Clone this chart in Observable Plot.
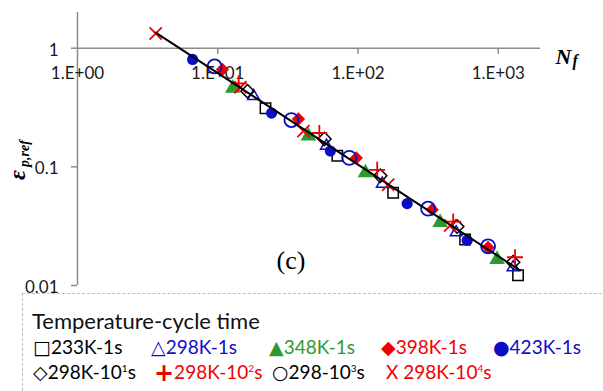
<!DOCTYPE html>
<html>
<head>
<meta charset="utf-8">
<script src="https://cdn.jsdelivr.net/npm/d3@7"></script>
<script src="https://cdn.jsdelivr.net/npm/@observablehq/plot@0.6"></script>
<style>
  html, body { margin: 0; padding: 0; background: #fff; overflow: hidden; width: 603px; height: 391px; }
  #chart svg { display: block; }
  #legend { position: relative; margin-left: 22px; width: 620px; height: 98px; border-top: 1px dashed #bdbdbd; border-left: 1px dashed #bdbdbd; font-family: Lato, "Open Sans", sans-serif; box-sizing: border-box; }
  #legend .title { position: absolute; left: 9px; top: 14px; font-size: 22px; line-height: 26px; color: #111; white-space: nowrap; }
  #legend .item { position: absolute; font-size: 19px; line-height: 24px; white-space: nowrap; }
  #legend .sym { font-family: "DejaVu Sans", sans-serif; font-size: 19px; }
  #legend sup { font-size: 10px; vertical-align: 7px; line-height: 0; }
</style>
</head>
<body>
<div id="chart"></div>
<div id="legend"></div>
<script>
// ---- Data (Nf, plastic strain amplitude) ----
const seriesNames = ["233K-1s", "298K-1s", "348K-1s", "398K-1s", "423K-1s", "298K-10^1s", "298K-10^2s", "298-10^3s", "298K-10^4s"];
const N_233K_1s = [21.9, 71.2, 178, 580, 1383];
const E_233K_1s = [0.312, 0.124, 0.0605, 0.0244, 0.0122];
const N_298K_1s = [18.0, 59.5, 149, 501, 1275];
const E_298K_1s = [0.394, 0.150, 0.0720, 0.0280, 0.0142];
const N_348K_1s = [12.8, 44.3, 113, 385, 981];
const E_348K_1s = [0.459, 0.182, 0.0891, 0.0339, 0.0166];
const N_398K_1s = [10.8, 37.6, 97.3, 338, 846];
const E_398K_1s = [0.663, 0.253, 0.119, 0.0436, 0.0209];
const N_423K_1s = [6.62, 24.2, 63.5, 224, 600];
const E_423K_1s = [0.804, 0.284, 0.136, 0.0490, 0.0240];
const N_298K_10s = [16.3, 57.6, 144, 509, 1275];
const E_298K_10s = [0.434, 0.172, 0.0841, 0.0314, 0.0157];
const N_298K_100s = [14.1, 53.0, 137, 477, 1317];
const E_298K_100s = [0.506, 0.193, 0.0944, 0.0346, 0.0173];
const N_298_1000s = [9.49, 33.5, 86.7, 316, 846];
const E_298_1000s = [0.702, 0.248, 0.119, 0.0444, 0.0214];
const N_298K_10000s = [3.61, 14.5, 40.8, 164, 454];
const E_298K_10000s = [1.33, 0.468, 0.200, 0.0706, 0.0320];
// fitted line end points
const fitN = [3.61, 1430];
const fitE = [1.354, 0.0134];

// ---- Axis ticks ----
const xTicks = [1, 10, 100, 1000];
const xTickLabels = ["1.E+00", "1.E+01", "1.E+02", "1.E+03"];
const yTicks = [0.01, 0.1, 1];
const yTickLabels = ["0.01", "0.1", "1"];
const xAxisCross = 1;   // x axis crosses the y axis at eps = 1
const yAxisCross = 1;   // y axis at N = 1

const toRows = (N, E) => N.map((n, i) => ({n, e: E[i]}));
const fitRows = toRows(fitN, fitE);

const BLUE = "#0d0dc8", GREEN = "#2e9a2e", RED = "#f00000", BLACK = "#000";
const serif = "'Liberation Serif', 'Times New Roman', serif";
const sans = "Lato, 'Open Sans', sans-serif";

const openDot = (rows, symbol, color, r, sw = 1.5) =>
  Plot.dot(rows, {x: "n", y: "e", symbol, r, fill: "none", stroke: color, strokeWidth: sw});
const fillDot = (rows, symbol, color, r) =>
  Plot.dot(rows, {x: "n", y: "e", symbol, r, fill: color, stroke: "none"});

const chart = Plot.plot({
  width: 603,
  height: 293,
  marginLeft: 77,
  marginRight: 63,
  marginTop: 12,
  marginBottom: 8,
  style: {overflow: "visible", background: "transparent"},
  x: {type: "log", domain: [1, 2000], axis: null},
  y: {type: "log", domain: [0.01, 2], axis: null},
  marks: [
    // axes lines
    Plot.ruleX([yAxisCross], {stroke: "#8c8c8c", strokeWidth: 1.5}),
    Plot.ruleY([xAxisCross], {stroke: "#8c8c8c", strokeWidth: 1.5}),
    // y ticks (pointing left)
    Plot.ruleY(yTicks, {y: d => d, x1: yAxisCross, x2: yAxisCross, insetLeft: -6, stroke: "#8c8c8c", strokeWidth: 1.5}),
    // x ticks (pointing down)
    Plot.ruleX(xTicks.slice(1), {x: d => d, y1: xAxisCross, y2: xAxisCross, insetBottom: -6, stroke: "#8c8c8c", strokeWidth: 1.5}),
    // tick labels
    Plot.text(xTicks, {x: d => d, y: () => xAxisCross, text: (d, i) => xTickLabels[i], dy: 25, fontSize: 17, fontFamily: sans, fill: "#1a1a1a"}),
    Plot.text(yTicks, {x: () => yAxisCross, y: d => d, text: (d, i) => yTickLabels[i], dx: -19, dy: 2, textAnchor: "end", fontSize: 17, fontFamily: sans, fill: "#1a1a1a"}),
    // series
    openDot(toRows(N_233K_1s, E_233K_1s), "square2", BLACK, 6.6),
    openDot(toRows(N_298K_1s, E_298K_1s), "triangle2", BLUE, 5.6),
    fillDot(toRows(N_348K_1s, E_348K_1s), "triangle", GREEN, 5.8),
    fillDot(toRows(N_398K_1s, E_398K_1s), "diamond2", RED, 6),
    fillDot(toRows(N_423K_1s, E_423K_1s), "circle", BLUE, 5.6),
    openDot(toRows(N_298K_10s, E_298K_10s), "diamond2", BLACK, 6),
    openDot(toRows(N_298K_100s, E_298K_100s), "plus", RED, 5.2, 1.8),
    openDot(toRows(N_298_1000s, E_298_1000s), "circle", BLUE, 7, 1.8),
    openDot(toRows(N_298K_10000s, E_298K_10000s), "times", RED, 5.6, 1.8),
    // fitted line
    Plot.line(fitRows, {x: "n", y: "e", stroke: BLACK, strokeWidth: 2}),
    // axis titles
    Plot.text(["N"], {frameAnchor: "top-right", text: d => d, dx: 15, dy: 36, textAnchor: "start", fontFamily: serif, fontWeight: "bold", fontStyle: "italic", fontSize: 22, fill: "#000"}),
    Plot.text(["f"], {frameAnchor: "top-right", text: d => d, dx: 32, dy: 42, textAnchor: "start", fontFamily: serif, fontWeight: "bold", fontStyle: "italic", fontSize: 16, fill: "#000"}),
    Plot.text(["\u03b5"], {frameAnchor: "left", text: d => d, dx: -60, dy: 26, rotate: -90, textAnchor: "middle", fontFamily: serif, fontWeight: "bold", fontStyle: "italic", fontSize: 24, fill: "#000"}),
    Plot.text(["p,ref"], {frameAnchor: "left", text: d => d, dx: -53, dy: 18, rotate: -90, textAnchor: "start", fontFamily: serif, fontWeight: "bold", fontStyle: "italic", fontSize: 14, fill: "#000"}),
    Plot.text(["(c)"], {frameAnchor: "bottom", text: d => d, dx: -18, dy: -17, fontFamily: serif, fontSize: 26, fill: "#000"})
  ]
});
document.getElementById("chart").appendChild(chart);

// ---- Legend ----
const legendTitle = "Temperature-cycle time";
const legendItems = [
  {sym: "\u25a1", symColor: BLACK, label: "233K-1s", color: BLACK, left: 10, row: 0},
  {sym: "\u25b3", symColor: BLUE, label: "298K-1s", color: BLUE, left: 128, row: 0},
  {sym: "\u25b2", symColor: GREEN, label: "348K-1s", color: GREEN, left: 246, row: 0},
  {sym: "\u25c6", symColor: RED, label: "398K-1s", color: RED, left: 358, row: 0},
  {sym: "\u25cf", symColor: BLUE, label: "423K-1s", color: BLUE, left: 470, row: 0},
  {sym: "\u25c7", symColor: BLACK, label: "298K-10<sup>1</sup>s", color: BLACK, left: 10, row: 1},
  {sym: "+", symColor: RED, label: "298K-10<sup>2</sup>s", color: RED, left: 131, row: 1, big: true},
  {sym: "\u25cb", symColor: BLACK, label: "298-10<sup>3</sup>s", color: BLACK, left: 249, row: 1},
  {sym: "X ", symColor: RED, label: "298K-10<sup>4</sup>s", color: RED, left: 363, row: 1, plain: true}
];
const legend = document.getElementById("legend");
const t = document.createElement("div");
t.className = "title";
t.textContent = legendTitle;
legend.appendChild(t);
const rowTops = [41, 66];
legendItems.forEach(it => {
  const d = document.createElement("div");
  d.className = "item";
  d.style.left = it.left + "px";
  d.style.top = rowTops[it.row] + "px";
  const symStyle = it.plain ? `color:${it.symColor};` : (it.big ? `color:${it.symColor};font-family:'DejaVu Sans',sans-serif;font-size:24px;font-weight:bold;vertical-align:-2px;` : `color:${it.symColor};`);
  const cls = it.plain || it.big ? "" : "sym";
  d.innerHTML = `<span class="${cls}" style="${symStyle}">${it.sym}</span><span style="color:${it.color}">${it.label}</span>`;
  legend.appendChild(d);
});
</script>
</body>
</html>
